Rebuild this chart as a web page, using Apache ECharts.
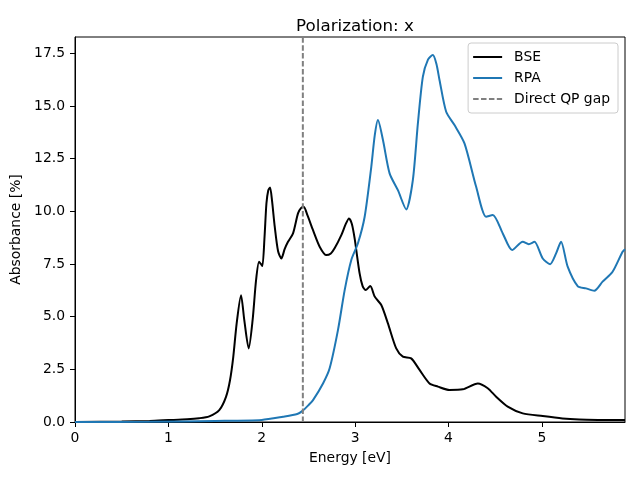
<!DOCTYPE html>
<html><head><meta charset="utf-8">
<script src="https://cdn.jsdelivr.net/npm/echarts@6/dist/echarts.min.js"></script>
<style>html,body{margin:0;padding:0;background:#fff}#c{width:640px;height:480px}</style>
</head><body><div id="c"></div>
<script>
const bseE = [0, 0.5, 0.8, 1.0, 1.2, 1.33, 1.438, 1.545, 1.617, 1.66, 1.695, 1.731, 1.778, 1.813, 1.86, 1.902, 1.939, 1.971, 1.99, 2.007, 2.03, 2.05, 2.07, 2.089, 2.11, 2.139, 2.175, 2.21, 2.245, 2.281, 2.335, 2.388, 2.42, 2.449, 2.49, 2.549, 2.62, 2.692, 2.74, 2.78, 2.852, 2.90, 2.934, 2.965, 2.995, 3.048, 3.08, 3.112, 3.162, 3.209, 3.28, 3.351, 3.44, 3.511, 3.6, 3.69, 3.797, 3.886, 4.011, 4.153, 4.314, 4.42, 4.51, 4.634, 4.795, 5.009, 5.22, 5.4, 5.6, 5.89];
const bseA = [0, 0.02, 0.05, 0.09, 0.13, 0.18, 0.27, 0.56, 1.19, 1.98, 3.09, 4.67, 6.02, 4.83, 3.49, 4.83, 6.73, 7.6, 7.5, 7.4, 8.8, 10.37, 11.0, 11.13, 10.5, 9.27, 8.1, 7.76, 8.2, 8.55, 8.95, 9.9, 10.15, 10.21, 9.8, 9.1, 8.32, 7.92, 8.0, 8.24, 8.87, 9.4, 9.66, 9.4, 8.7, 7.05, 6.45, 6.26, 6.45, 5.95, 5.55, 4.68, 3.49, 3.1, 3.02, 2.47, 1.83, 1.68, 1.52, 1.55, 1.83, 1.6, 1.2, 0.73, 0.41, 0.28, 0.17, 0.12, 0.1, 0.09];
const rpaE = [0, 0.8, 1.5, 2.0, 2.228, 2.38, 2.44, 2.5, 2.549, 2.656, 2.727, 2.816, 2.888, 2.959, 3.03, 3.102, 3.173, 3.21, 3.244, 3.298, 3.369, 3.458, 3.547, 3.618, 3.672, 3.725, 3.78, 3.832, 3.87, 3.904, 3.975, 4.064, 4.171, 4.296, 4.403, 4.474, 4.581, 4.681, 4.795, 4.859, 4.92, 5.009, 5.088, 5.152, 5.205, 5.276, 5.383, 5.472, 5.561, 5.65, 5.757, 5.864, 5.89];
const rpaA = [0, 0.01, 0.05, 0.1, 0.25, 0.38, 0.54, 0.8, 1.04, 1.83, 2.55, 4.36, 6.26, 7.69, 8.48, 9.74, 12.11, 13.6, 14.33, 13.38, 11.8, 11.0, 10.09, 11.48, 14.17, 16.38, 17.2, 17.41, 17.0, 16.22, 14.72, 14.09, 13.22, 11.16, 9.74, 9.82, 8.95, 8.16, 8.55, 8.44, 8.55, 7.76, 7.49, 8.0, 8.55, 7.37, 6.45, 6.34, 6.23, 6.66, 7.13, 8.08, 8.2];
const gapE = 2.44;
const xMax = 5.89, yMax = 18.27;
const xTicks = [0, 1, 2, 3, 4, 5];
const yTicks = ['0.0', '2.5', '5.0', '7.5', '10.0', '12.5', '15.0', '17.5'];

const zip = (a, b) => a.map((v, i) => [v, b[i]]);
const font = 'DejaVu Sans';
const chart = echarts.init(document.getElementById('c'), null, {renderer: 'canvas'});
chart.setOption({
  animation: false,
  backgroundColor: '#fff',
  textStyle: {fontFamily: font},
  title: {text: 'Polarization: x', left: 350, textAlign: 'center', top: 13,
    textStyle: {fontFamily: font, fontSize: 16.7, fontWeight: 'normal', color: '#000'}},
  grid: {left: 75, right: 15, top: 37, bottom: 58, show: true, borderColor: '#000', borderWidth: 1},
  legend: {
    orient: 'vertical', right: 22, top: 43, padding: [7, 8, 7, 4],
    itemWidth: 29, itemHeight: 14, itemGap: 7,
    borderColor: '#cccccc', borderWidth: 1, borderRadius: 3,
    backgroundColor: 'rgba(255,255,255,0.8)',
    itemStyle: {opacity: 0},
    textStyle: {fontFamily: font, fontSize: 13.9, color: '#000', padding: [0, 0, 0, 7]},
    data: ['BSE', 'RPA', 'Direct QP gap']
  },
  xAxis: {
    type: 'value', min: 0, max: xMax, interval: 1,
    name: 'Energy [eV]', nameLocation: 'middle', nameGap: 29,
    nameTextStyle: {fontFamily: font, fontSize: 13.9, color: '#000'},
    axisLine: {show: true, lineStyle: {color: '#000', width: 1}},
    axisTick: {show: true, inside: false, length: 5, lineStyle: {color: '#000'}},
    axisLabel: {margin: 9, fontFamily: font, fontSize: 13.9, color: '#000', showMaxLabel: false,
      formatter: v => xTicks.includes(v) ? String(v) : ''},
    splitLine: {show: false}
  },
  yAxis: {
    type: 'value', min: 0, max: yMax, interval: 2.5,
    name: 'Absorbance [%]', nameLocation: 'middle', nameGap: 50,
    nameTextStyle: {fontFamily: font, fontSize: 13.9, color: '#000'},
    axisLine: {show: true, lineStyle: {color: '#000', width: 1}},
    axisTick: {show: true, inside: false, length: 5, lineStyle: {color: '#000'}},
    axisLabel: {margin: 10, fontFamily: font, fontSize: 13.9, color: '#000', showMaxLabel: false,
      formatter: v => { const s = v.toFixed(1); return yTicks.includes(s) ? s : ''; }},
    splitLine: {show: false}
  },
  series: [
    {name: 'BSE', type: 'line', data: zip(bseE, bseA), showSymbol: false, symbol: 'none', smooth: 0.25,
      color: '#000000', lineStyle: {color: '#000000', width: 2}},
    {name: 'RPA', type: 'line', data: zip(rpaE, rpaA), showSymbol: false, symbol: 'none', smooth: 0.25,
      color: '#1f77b4', lineStyle: {color: '#1f77b4', width: 2}},
    {name: 'Direct QP gap', type: 'line', data: [[gapE, 0], [gapE, yMax]], showSymbol: false, symbol: 'none',
      color: '#808080', lineStyle: {color: '#808080', width: 2, type: [5.5, 2.4]}}
  ]
});
</script></body></html>
